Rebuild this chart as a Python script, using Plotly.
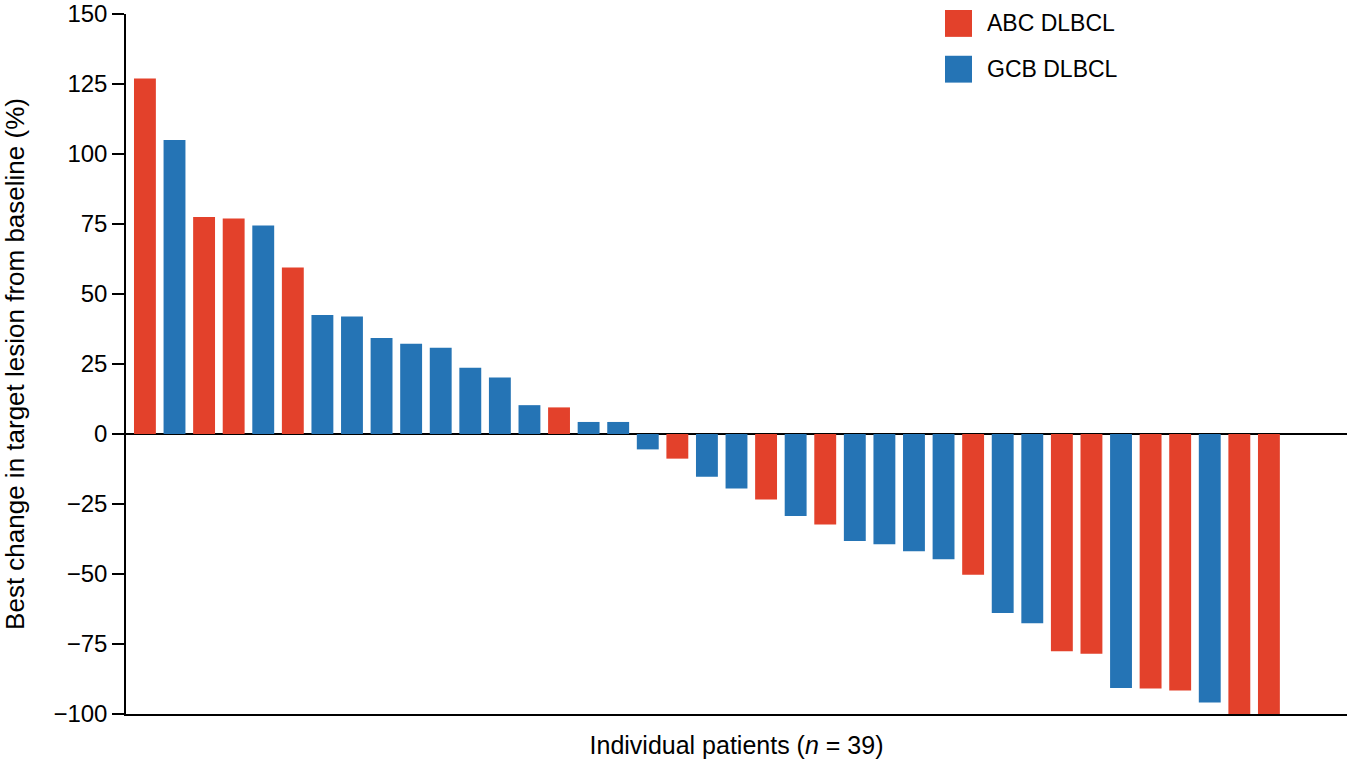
import plotly.graph_objects as go

# best change in target lesion from baseline (%), one value per patient, sorted
change = [127, 105, 77.5, 77, 74.5, 59.5, 42.5, 42, 34.3, 32.2, 30.8, 23.7, 20.2,
          10.3, 9.5, 4.3, 4.3, -5.5, -8.8, -15.3, -19.5, -23.4, -29.3, -32.3,
          -38.2, -39.4, -41.9, -44.7, -50.3, -63.9, -67.6, -77.6, -78.5, -90.7,
          -90.9, -91.6, -95.9, -100, -100]
subtype = ['ABC', 'GCB', 'ABC', 'ABC', 'GCB', 'ABC', 'GCB', 'GCB', 'GCB', 'GCB',
           'GCB', 'GCB', 'GCB', 'GCB', 'ABC', 'GCB', 'GCB', 'GCB', 'ABC', 'GCB',
           'GCB', 'ABC', 'GCB', 'ABC', 'GCB', 'GCB', 'GCB', 'GCB', 'ABC', 'GCB',
           'GCB', 'ABC', 'ABC', 'GCB', 'ABC', 'ABC', 'GCB', 'ABC', 'ABC']
groups = ['ABC', 'GCB']
group_labels = ['ABC DLBCL', 'GCB DLBCL']
colors = {'ABC': '#E3412B', 'GCB': '#2574B5'}
y_ticks = [-100, -75, -50, -25, 0, 25, 50, 75, 100, 125, 150]

FONT = 'Liberation Sans, Arial, sans-serif'

fig = go.Figure()
for g in groups:
    idx = [i for i, s in enumerate(subtype) if s == g]
    fig.add_trace(go.Bar(x=idx, y=[change[i] for i in idx],
                         marker=dict(color=colors[g], line=dict(width=0)),
                         width=0.74, showlegend=False, name=g))

# legend drawn by hand so the swatches can be as big as in the figure
for k, (g, lab) in enumerate(zip(groups, group_labels)):
    y0 = 1 - (6 + 46 * k) / 704 + 10 / 704
    fig.add_shape(type='rect', xref='paper', yref='paper',
                  x0=(945 - 126) / 1221, x1=(972 - 126) / 1221,
                  y0=y0 - 27 / 704, y1=y0,
                  fillcolor=colors[g], line=dict(width=0))
    fig.add_annotation(xref='paper', yref='paper', x=(985 - 126) / 1221,
                       y=y0 - 13.5 / 704, text=lab, showarrow=False,
                       xanchor='left', yanchor='middle',
                       font=dict(size=23, color='black', family=FONT))

fig.update_layout(
    width=1347, height=762,
    margin=dict(l=126, r=0, t=10, b=48),
    plot_bgcolor='white', paper_bgcolor='white',
    barmode='overlay',
    font=dict(family=FONT, size=24, color='black'),
    xaxis=dict(range=[-0.64, 40.64], showticklabels=False, ticks='',
               showgrid=False, zeroline=False, showline=True,
               linecolor='black', linewidth=1.5,
               title=dict(text='Individual patients (<i>n</i> = 39)',
                          font=dict(size=25), standoff=22)),
    yaxis=dict(range=[-100, 150], tickvals=y_ticks, ticks='outside',
               ticklen=12, tickwidth=1.5, tickcolor='black',
               ticklabeloverflow='allow',
               showgrid=False, zeroline=True, zerolinecolor='black',
               zerolinewidth=1.5, showline=True, linecolor='black',
               linewidth=1.5, tickfont=dict(size=24),
               title=dict(text='Best change in target lesion from baseline (%)',
                          font=dict(size=26), standoff=22)),
)

fig.write_html('out.html', config={'displayModeBar': False},
               post_script="document.body.style.margin='0px';")
